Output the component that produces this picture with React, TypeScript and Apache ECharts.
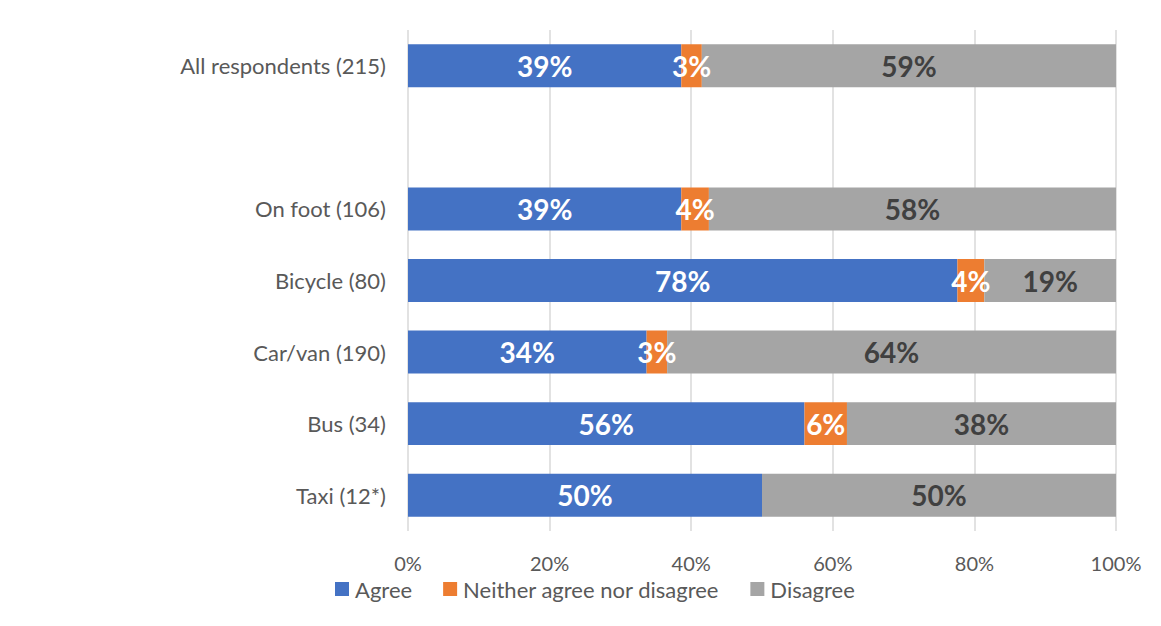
import React, { useEffect, useRef } from "react";
import * as echarts from "echarts";

const categories = ["All respondents (215)", "", "On foot (106)", "Bicycle (80)", "Car/van (190)", "Bus (34)", "Taxi (12*)"];
const agree = [38.6, null, 38.6, 77.6, 33.7, 56.0, 50.0];
const neither = [2.9, null, 3.9, 3.8, 2.9, 6.0, 0];
const disagree = [58.5, null, 57.5, 18.6, 63.5, 38.0, 50.0];
const seriesNames = ["Agree", "Neither agree nor disagree", "Disagree"];
const colors = ["#4472C4", "#ED7D31", "#A5A5A5"];
const labelColors = ["#ffffff", "#ffffff", "#404040"];

const FONT = "Lato, 'Open Sans', sans-serif";

export default function App() {
  const ref = useRef<HTMLDivElement>(null);
  useEffect(() => {
    if (!ref.current) return;
    const chart = echarts.init(ref.current, undefined, { renderer: "svg" });
    const data = [agree, neither, disagree];
    chart.setOption({
      animation: false,
      graphic: [
        {
          type: "rect",
          silent: true,
          z: 100,
          shape: { x: 6.5, y: 6.5, width: 1170, height: 614 },
          style: { fill: null, stroke: "#c8c8c8", lineWidth: 2 },
        },
      ],
      grid: { left: 408, right: 45, top: 30, bottom: 95, containLabel: false },
      legend: {
        top: 573,
        left: 330,
        itemWidth: 14,
        itemHeight: 14,
        itemGap: 31,
        icon: "rect",
        textStyle: { fontSize: 22, color: "#595959", fontFamily: FONT, padding: [0, 0, 0, 1] },
        data: seriesNames,
      },
      xAxis: {
        type: "value",
        min: 0,
        max: 100,
        interval: 20,
        axisLabel: { formatter: "{value}%", fontSize: 20, color: "#595959", fontFamily: FONT, margin: 22 },
        axisLine: { show: false },
        axisTick: { show: false },
        splitLine: { show: true, lineStyle: { color: "#d9d9d9", width: 1.5 } },
      },
      yAxis: {
        type: "category",
        inverse: true,
        data: categories,
        axisLine: { show: false },
        axisTick: { show: false },
        axisLabel: { fontSize: 22, color: "#595959", fontFamily: FONT, margin: 22 },
      },
      series: seriesNames.map((name, i) => ({
        name,
        type: "bar",
        stack: "total",
        barWidth: "60%",
        itemStyle: { color: colors[i] },
        label: {
          show: true,
          position: "inside",
          fontSize: 28,
          fontWeight: "bold",
          fontFamily: FONT,
          color: labelColors[i],
          formatter: (p: any) => (p.value ? Math.round(p.value) + "%" : ""),
        },
        data: data[i],
      })),
    });
    return () => chart.dispose();
  }, []);
  return <div ref={ref} style={{ width: 1161, height: 626, margin: -8 }} />;
}
